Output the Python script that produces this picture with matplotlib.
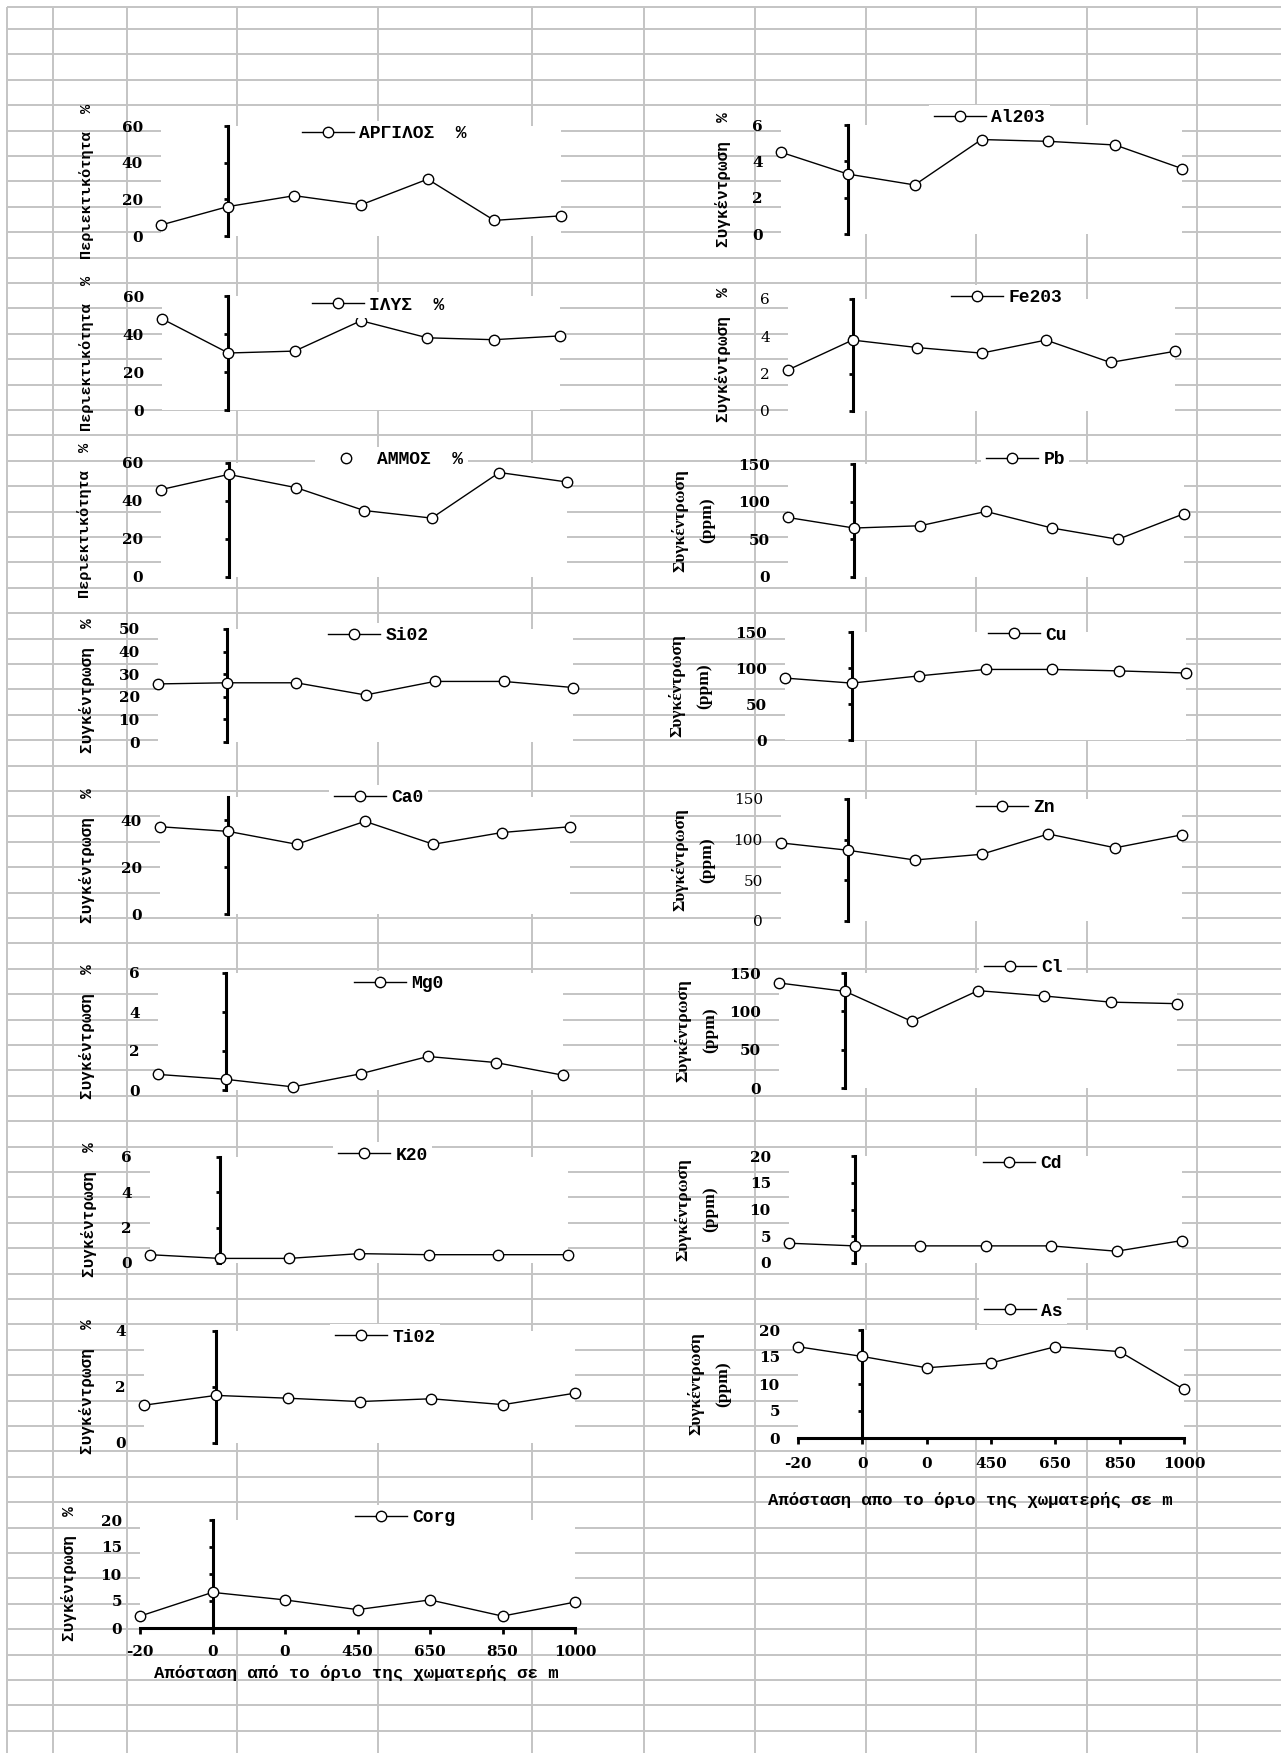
import matplotlib.pyplot as plt
import numpy as np
from matplotlib.lines import Line2D

W, H = 1281, 1753
MONO = "Liberation Mono"
SERIF = "DejaVu Serif"

# x categories: distance from the landfill boundary
distances = ["-20", "0", "0", "450", "650", "850", "1000"]

# left column
argilos = [6, 16, 22, 17, 31, 8.5, 11]
ilys = [48, 30, 31, 47, 38, 37, 39]
ammos = [46, 54, 47, 35, 31, 55, 50]
sio2 = [25.7, 26.2, 26.2, 20.8, 26.8, 26.8, 24.1]
cao = [37.3, 35.3, 29.8, 39.6, 29.8, 34.8, 37.3]
mgo = [0.8, 0.55, 0.16, 0.83, 1.72, 1.41, 0.76]
k2o = [0.47, 0.26, 0.26, 0.53, 0.47, 0.47, 0.47]
tio2 = [1.35, 1.7, 1.6, 1.48, 1.58, 1.37, 1.78]
corg = [2.2, 6.6, 5.2, 3.4, 5.2, 2.2, 4.8]

# right column
al2o3 = [4.5, 3.3, 2.7, 5.2, 5.1, 4.9, 3.6]
fe2o3 = [2.2, 3.8, 3.4, 3.1, 3.8, 2.6, 3.2]
pb = [79, 65, 68, 87, 65, 50, 84]
cu = [86, 79, 89, 98, 98, 96, 93]
zn = [96, 87, 75, 82, 107, 90, 106]
cl = [137, 126, 87, 127, 120, 112, 110]
cd = [3.7, 3.2, 3.2, 3.2, 3.2, 2.2, 4.2]
as_ = [16.9, 15.1, 13, 13.9, 16.9, 16, 9]

PERC = "Περιεκτικότητα  %"
CONC = "Συγκέντρωση  %"
PPM = "Συγκέντρωση\n(ppm)"
XLAB_LEFT = "Απόσταση από το όριο της χωματερής σε m"
XLAB_RIGHT = "Απόσταση απο το όριο της χωματερής σε m"

# legend, values, ymax, yticks, ylabel
charts = [
    ("ΑΡΓΙΛΟΣ  %", argilos, 60, [0, 20, 40, 60], PERC),
    ("ΙΛΥΣ  %", ilys, 60, [0, 20, 40, 60], PERC),
    ("ΑΜΜΟΣ  %", ammos, 60, [0, 20, 40, 60], PERC),
    ("Si02", sio2, 50, [0, 10, 20, 30, 40, 50], CONC),
    ("Ca0", cao, 50, [0, 20, 40], CONC),
    ("Mg0", mgo, 6, [0, 2, 4, 6], CONC),
    ("K20", k2o, 6, [0, 2, 4, 6], CONC),
    ("Ti02", tio2, 4, [0, 2, 4], CONC),
    ("Corg", corg, 20, [0, 5, 10, 15, 20], CONC),
    ("Al203", al2o3, 6, [0, 2, 4, 6], CONC),
    ("Fe203", fe2o3, 6, [0, 2, 4, 6], CONC),
    ("Pb", pb, 150, [0, 50, 100, 150], PPM),
    ("Cu", cu, 150, [0, 50, 100, 150], PPM),
    ("Zn", zn, 150, [0, 50, 100, 150], PPM),
    ("Cl", cl, 150, [0, 50, 100, 150], PPM),
    ("Cd", cd, 20, [0, 5, 10, 15, 20], PPM),
    ("As", as_, 20, [0, 5, 10, 15, 20], PPM),
]

# pixel layout: x0, x1, y of ymax, y of 0, ylabel x, legend x, legend y
layout = [
    (161, 561, 126, 236, 87, 297, 134),
    (162, 560, 296, 410, 87, 307, 305),
    (161, 567, 463, 577, 85, 315, 460),
    (158, 573, 629, 742, 87, 323, 636),
    (160, 570, 797, 914, 87, 329, 798),
    (158, 563, 973, 1090, 87, 349, 984),
    (150, 568, 1157, 1263, 89, 333, 1155),
    (144, 575, 1331, 1443, 87, 330, 1337),
    (140, 575, 1520, 1628, 69, 350, 1518),
    (781, 1182, 125, 234, 723, 929, 118),
    (788, 1175, 299, 411, 723, 946, 298),
    (788, 1184, 464, 577, 693, 981, 460),
    (785, 1186, 632, 740, 690, 983, 635),
    (781, 1182, 799, 921, 693, 971, 808),
    (779, 1177, 973, 1088, 696, 979, 968),
    (789, 1182, 1156, 1263, 696, 978, 1164),
    (798, 1184, 1330, 1438, 709, 979, 1311),
]

light_ticks = {"Fe203", "Zn"}
marker_only = {"ΑΜΜΟΣ  %"}
# bottom charts with a category axis: index -> (xlabel, xlabel centre x, xlabel y, tick pad)
x_axes = {8: (XLAB_LEFT, 356, 1673, 8.0), 16: (XLAB_RIGHT, 970, 1500, 9.5)}

fig = plt.figure(figsize=(W / 100, H / 100), dpi=100)

# spreadsheet cell grid behind the charts
bg = fig.add_axes([0, 0, 1, 1])
bg.set_xlim(0, W)
bg.set_ylim(H, 0)
bg.axis("off")
grid_kw = dict(color="#c4c4c4", lw=1.4)
rows = [7] + [29 + 25.4 * n for n in range(68)]
cols = [7, 53, 127, 237, 378, 532, 644, 755, 866, 976, 1087, 1197]
bg.hlines(rows, 7, W, **grid_kw)
bg.vlines(cols, 7, H, **grid_kw)

x = np.arange(len(distances))

for i, ((name, vals, ymax, yticks, ylab), (x0, x1, yt, yb, labx, lx, ly)) in enumerate(zip(charts, layout)):
    ax = fig.add_axes([x0 / W, 1 - yb / H, (x1 - x0) / W, (yb - yt) / H])
    ax.set_facecolor("white")
    ax.set_xlim(0, 6)
    ax.set_ylim(0, ymax)

    line, = ax.plot(x, vals, color="black", lw=1.0, marker="o", ms=7.5,
                    mfc="white", mec="black", mew=1.0, clip_on=False, zorder=4)

    for s in ["top", "right"]:
        ax.spines[s].set_visible(False)
    ax.spines["left"].set_position(("data", 1))
    ax.spines["left"].set_linewidth(2.2)

    cat_px = (x1 - x0) / 6
    ax.set_yticks(yticks)
    ax.tick_params(axis="y", direction="out", length=3, width=2,
                   pad=(cat_px + 18 - 4) * 0.72)
    weight = "normal" if name in light_ticks else "bold"
    for t in ax.get_yticklabels():
        t.set_fontfamily(SERIF)
        t.set_fontweight(weight)
        t.set_fontsize(11)

    if i in x_axes:
        xlab, cx, cy, tpad = x_axes[i]
        ax.spines["bottom"].set_linewidth(2.2)
        ax.set_xticks(x)
        ax.set_xticklabels(distances, fontfamily=SERIF, fontweight="bold", fontsize=11)
        ax.tick_params(axis="x", direction="out", length=4, width=2, pad=tpad)
        ax.set_xlabel(xlab, fontfamily=MONO, fontweight="bold", fontsize=12.5)
        ax.xaxis.set_label_coords((cx - x0) / (x1 - x0), -(cy - yb) / (yb - yt))
        ax.xaxis.label.set_va("center")
    else:
        ax.spines["bottom"].set_visible(False)
        ax.set_xticks([])

    if ylab == PERC:
        ax.set_ylabel(ylab, fontfamily=MONO, fontweight="bold", fontsize=11)
    elif ylab == PPM:
        ax.set_ylabel(ylab, fontfamily="Liberation Serif", fontweight="bold",
                      fontsize=12.5, linespacing=1.9)
    else:
        ax.set_ylabel(ylab, fontfamily=MONO, fontweight="bold", fontsize=11.5)
    ax.yaxis.set_label_coords((labx - x0) / (x1 - x0), 0.5)
    ax.yaxis.label.set_va("center")

    if name in marker_only:
        handle = Line2D([], [], ls="none", marker="o", ms=7.5, mfc="white",
                        mec="black", mew=1.0)
    else:
        handle = line
    ax.legend([handle], [name], loc="center left",
              bbox_to_anchor=(lx / W, 1 - ly / H), bbox_transform=fig.transFigure,
              frameon=True, fancybox=False, framealpha=1, facecolor="white",
              edgecolor="none", borderaxespad=0, borderpad=0.25,
              handlelength=2.9, handletextpad=0.3,
              prop=dict(family=MONO, weight="bold", size=13))

fig.savefig("out.png", dpi=100, facecolor="white")
